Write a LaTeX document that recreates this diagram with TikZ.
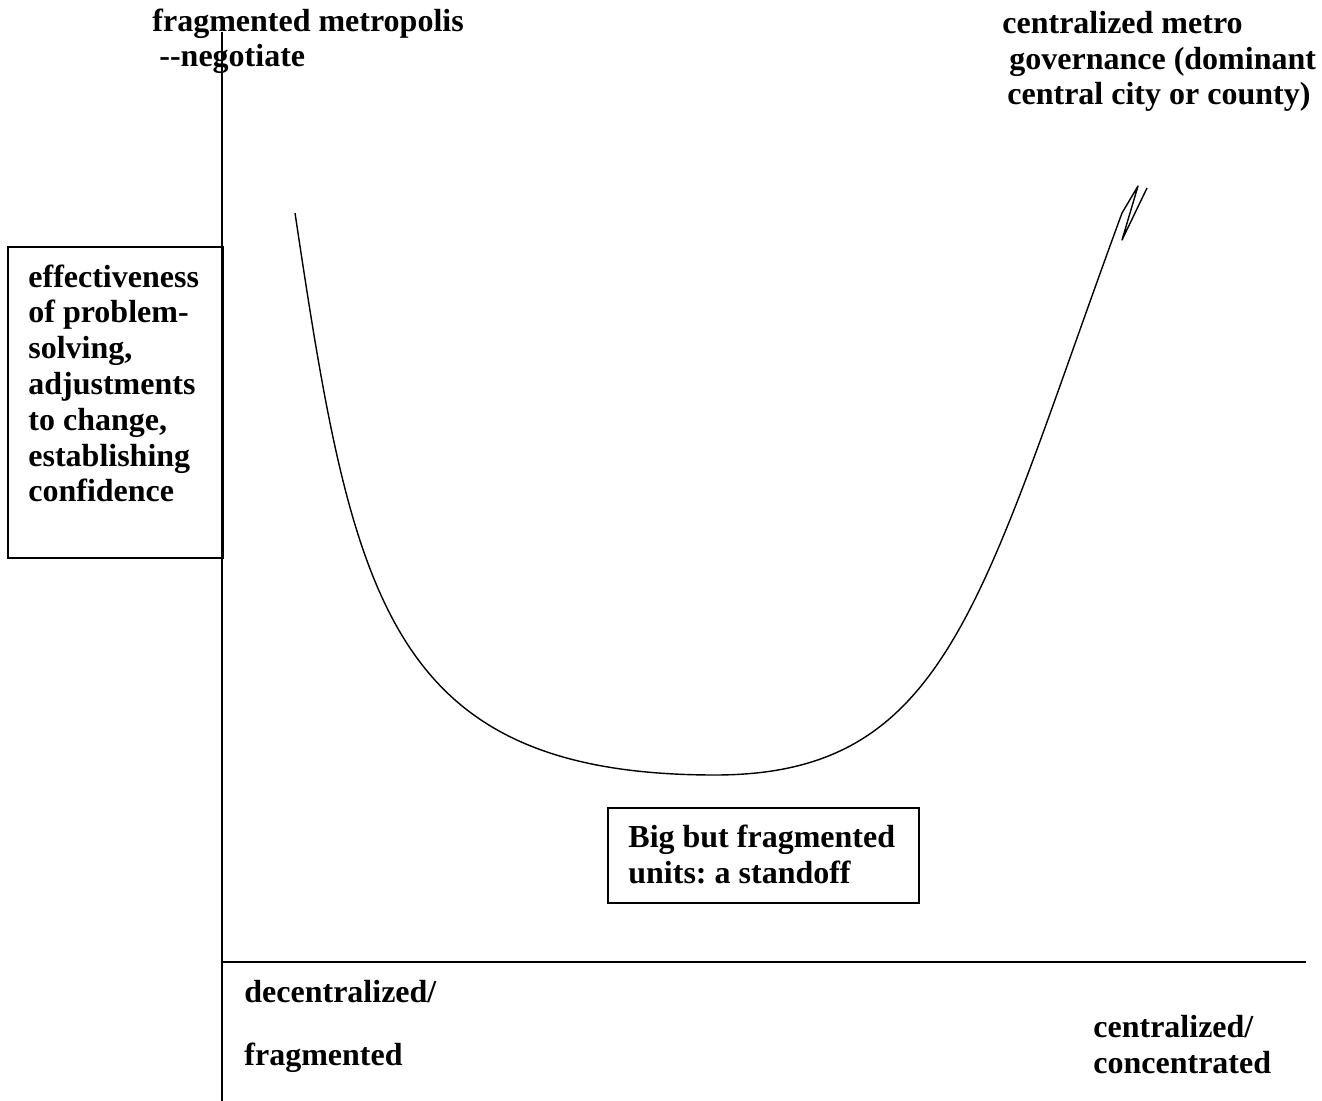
\documentclass[tikz,border=0pt]{standalone}
\usepackage{fontspec}
\setmainfont{Liberation Serif}
\frenchspacing

\begin{document}
\begin{tikzpicture}[x=0.5pt,y=-0.5pt]
    \tikzstyle{lbl} = [inner sep=0pt, anchor=base west, align=left,
        font=\fontsize{16}{17.9}\selectfont\bfseries]
    \tikzstyle{box} = [draw, line width=0.8pt, inner sep=0pt, anchor=north west]
    \tikzstyle{axis} = [line width=0.8pt]
    \tikzstyle{curve} = [line width=0.7pt, line join=round]
    \useasboundingbox (0,0) rectangle (1322,1101);

    % axes
    \coordinate (ytop) at (222,32);
    \coordinate (origin) at (222,962);
    \coordinate (ybot) at (222,1101);
    \coordinate (xend) at (1306,962);
    \draw[axis] (ytop) -- (ybot);
    \draw[axis] (origin) -- (xend);

    % boxes
    \node[box, minimum width=107.5pt, minimum height=155.5pt] (effbox) at (7,246) {};
    \node[box, minimum width=155.5pt, minimum height=47.5pt] (standbox) at (607,807) {};

    % labels (placed at the baseline of their last line)
    \node[lbl] (eff) at (28,502) {effectiveness\\of problem-\\solving,\\adjustments\\to change,\\establishing\\confidence};
    \node[lbl] (stand) at (628,883) {Big but fragmented\\units: a standoff};
    \node[lbl] (frag) at (152,67) {fragmented metropolis\\\hspace*{3.5pt}-{}-negotiate};
    \node[lbl] (cent) at (1002,105) {centralized metro\\\hspace*{3.5pt}governance (dominant\\\hspace*{2.5pt}central city or county)};
    \node[lbl] (decent) at (244,1065) {decentralized/\\[13.6pt]fragmented};
    \node[lbl] (conc) at (1093,1073) {centralized/\\concentrated};

    % the curve
    \coordinate (cstart) at (295,213);
    \coordinate (cmin) at (715,775);
    \coordinate (ctop) at (1122,213);
    \draw[curve] (cstart) .. controls (352,593) and (385,775) .. (cmin)
        .. controls (950,775) and (980,600) .. (ctop)
        -- (1138,186) -- (1122,240) -- (1147,188);
\end{tikzpicture}
\end{document}
